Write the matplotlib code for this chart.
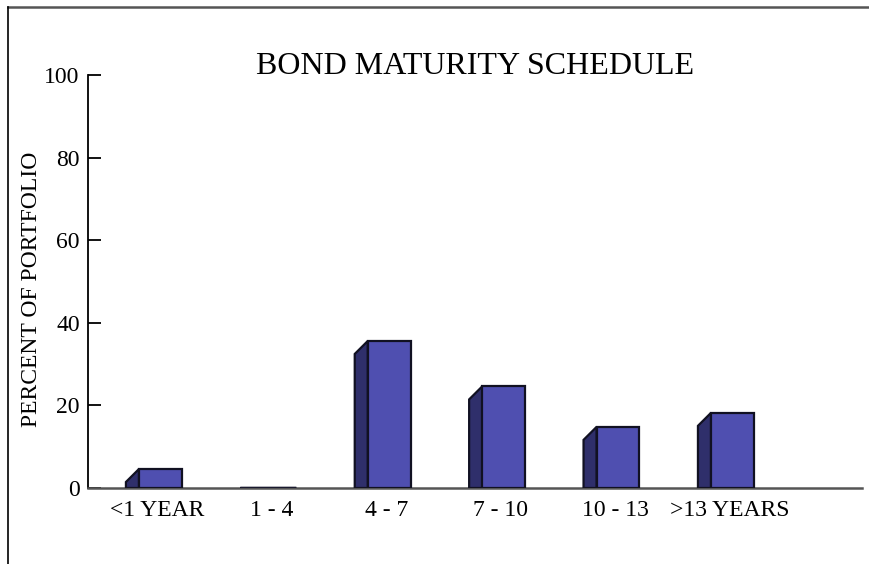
import matplotlib
matplotlib.use("Agg")
import matplotlib.pyplot as plt
from matplotlib.patches import Polygon
from matplotlib.lines import Line2D

categories = ["<1 YEAR", "1 - 4", "4 - 7", "7 - 10", "10 - 13", ">13 YEARS"]
values = [4.6, 0.0, 35.6, 24.6, 14.8, 18.2]
yticks = [0, 20, 40, 60, 80, 100]

plt.rcParams['font.family'] = ['Liberation Serif', 'DejaVu Serif']

W, H = 869, 564
fig = plt.figure(figsize=(W / 100, H / 100), dpi=100)
ax = fig.add_axes([88 / W, (H - 488) / H, (862 - 88) / W, (488 - 75) / H])
ax.set_xlim(-0.6075, 6.158)
ax.set_ylim(0, 100)

front_col = "#4F4FB0"
side_col = "#2F2F6B"
xoff, width = -0.162, 0.374
dx = 0.114
dy = 13 / 4.13

for i, v in enumerate(values):
    xl = i + xoff
    xr = xl + width
    side = Polygon([(xl - dx, 0), (xl - dx, max(v - dy, 0)), (xl, v), (xl, 0)],
                   closed=True, facecolor=side_col, edgecolor="#111122", lw=1.6,
                   joinstyle="miter", zorder=3)
    front = Polygon([(xl, 0), (xl, v), (xr, v), (xr, 0)], closed=True,
                    facecolor=front_col, edgecolor="#111122", lw=1.6,
                    joinstyle="miter", zorder=4)
    ax.add_patch(side)
    ax.add_patch(front)
    if v == 0:
        ax.plot([xl - dx, xr], [0, 0], color="#1a1a2e", lw=2.5, zorder=5,
                solid_capstyle="butt")

ax.spines['top'].set_visible(False)
ax.spines['right'].set_visible(False)
ax.spines['left'].set_color("black")
ax.spines['left'].set_linewidth(1.3)
ax.spines['bottom'].set_color("#555555")
ax.spines['bottom'].set_linewidth(1.8)

ax.set_yticks(yticks)
ax.set_yticklabels([str(t) for t in yticks], fontsize=17)
ax.tick_params(axis='y', direction='in', length=9.5, width=1.3, pad=6, colors='black')
ax.set_xticks(range(len(categories)))
ax.set_xticklabels(categories, fontsize=17)
ax.tick_params(axis='x', length=0, pad=9)

ax.set_ylabel("PERCENT OF PORTFOLIO", fontsize=17)
ax.yaxis.set_label_coords(-0.059, 0.48)

fig.text(475 / W, 1 - 67 / H, "BOND MATURITY SCHEDULE", fontsize=23,
         ha="center", va="center")

# outer frame lines
fig.add_artist(Line2D([8 / W, 1.0], [1 - 7 / H, 1 - 7 / H], color="#555555", lw=1.8,
                      transform=fig.transFigure))
fig.add_artist(Line2D([8 / W, 8 / W], [1 - 7 / H, 0.0], color="black", lw=1.2,
                      transform=fig.transFigure))

fig.savefig("out.png", dpi=100)
